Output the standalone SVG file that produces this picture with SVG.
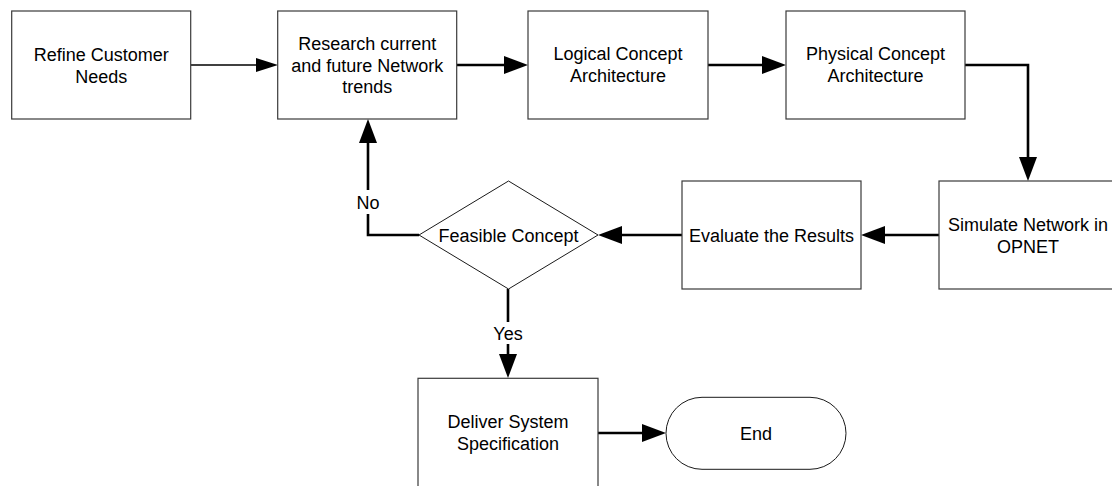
<svg xmlns="http://www.w3.org/2000/svg" width="1112" height="486" viewBox="0 0 1112 486">
  <style>
    .box { fill: #ffffff; stroke: #3a3a3a; stroke-width: 1.2; }
    .dec { fill: #ffffff; stroke: #1a1a1a; stroke-width: 1; }
    .lbl { font-family: "Liberation Sans", Arial, sans-serif; font-size: 18px; fill: #000000; text-anchor: middle; }
    .conn { fill: none; stroke: #000000; stroke-width: 2.6; }
    .thin { fill: none; stroke: #000000; stroke-width: 1.4; }
    .tagbg { fill: #ffffff; }
  </style>
  <defs>
    <marker id="head" viewBox="0 0 24 18" refX="0" refY="9" markerWidth="24" markerHeight="18" markerUnits="userSpaceOnUse" orient="auto">
      <path d="M0,0 L24,9 L0,18 z" fill="#000000"/>
    </marker>
    <marker id="headSmall" viewBox="0 0 22 14" refX="0" refY="7" markerWidth="22" markerHeight="14" markerUnits="userSpaceOnUse" orient="auto">
      <path d="M0,0 L22,7 L0,14 z" fill="#000000"/>
    </marker>
  </defs>

  <rect width="1112" height="486" fill="#ffffff"/>

  <!-- connectors -->
  <g id="connectors">
    <path class="thin" d="M190.7,65 H256" marker-end="url(#headSmall)"/>
    <path class="conn" d="M456.7,65 H504" marker-end="url(#head)"/>
    <path class="conn" d="M708,65 H762" marker-end="url(#head)"/>
    <path class="conn" d="M965,65 H1028 V157" marker-end="url(#head)"/>
    <path class="conn" d="M939,235 H885" marker-end="url(#head)"/>
    <path class="conn" d="M682,235 H622" marker-end="url(#head)"/>
    <path class="conn" d="M419,235 H368 V143" marker-end="url(#head)"/>
    <path class="conn" d="M508,289 V354" marker-end="url(#head)"/>
    <path class="conn" d="M598,433 H642" marker-end="url(#head)"/>
    <!-- branch labels -->
    <g id="label-no">
      <rect class="tagbg" x="354" y="190" width="28" height="24"/>
      <text class="lbl" x="368" y="208.5">No</text>
    </g>
    <g id="label-yes">
      <rect class="tagbg" x="489" y="322" width="38" height="22"/>
      <text class="lbl" x="508" y="339.5">Yes</text>
    </g>
  </g>

  <g id="refine">
    <rect class="box" x="11.7" y="11" width="179" height="108"/>
    <text class="lbl" x="101.2" y="60.5">Refine Customer</text>
    <text class="lbl" x="101.2" y="82.5">Needs</text>
  </g>

  <g id="research">
    <rect class="box" x="277.7" y="11" width="179" height="108"/>
    <text class="lbl" x="367.2" y="49.5">Research current</text>
    <text class="lbl" x="367.2" y="71.5">and future Network</text>
    <text class="lbl" x="367.2" y="93">trends</text>
  </g>

  <g id="logical">
    <rect class="box" x="528" y="11" width="180" height="108"/>
    <text class="lbl" x="618" y="60">Logical Concept</text>
    <text class="lbl" x="618" y="82">Architecture</text>
  </g>

  <g id="physical">
    <rect class="box" x="786" y="11" width="179" height="108"/>
    <text class="lbl" x="875.5" y="60">Physical Concept</text>
    <text class="lbl" x="875.5" y="82">Architecture</text>
  </g>

  <g id="simulate">
    <rect class="box" x="939" y="181" width="179" height="108"/>
    <text class="lbl" x="1028" y="231">Simulate Network in</text>
    <text class="lbl" x="1028" y="253">OPNET</text>
  </g>

  <g id="evaluate">
    <rect class="box" x="682" y="181" width="179" height="108"/>
    <text class="lbl" x="771.5" y="241.5">Evaluate the Results</text>
  </g>

  <g id="feasible">
    <polygon class="dec" points="508.5,181 598,235 508.5,289 419,235"/>
    <text class="lbl" x="508.5" y="241.5">Feasible Concept</text>
  </g>

  <g id="deliver">
    <rect class="box" x="418" y="378.3" width="180" height="112"/>
    <text class="lbl" x="508" y="428">Deliver System</text>
    <text class="lbl" x="508" y="450">Specification</text>
  </g>

  <g id="end">
    <rect class="dec" x="666" y="397.3" width="180" height="72" rx="36" ry="36"/>
    <text class="lbl" x="756" y="439.5">End</text>
  </g>
</svg>
